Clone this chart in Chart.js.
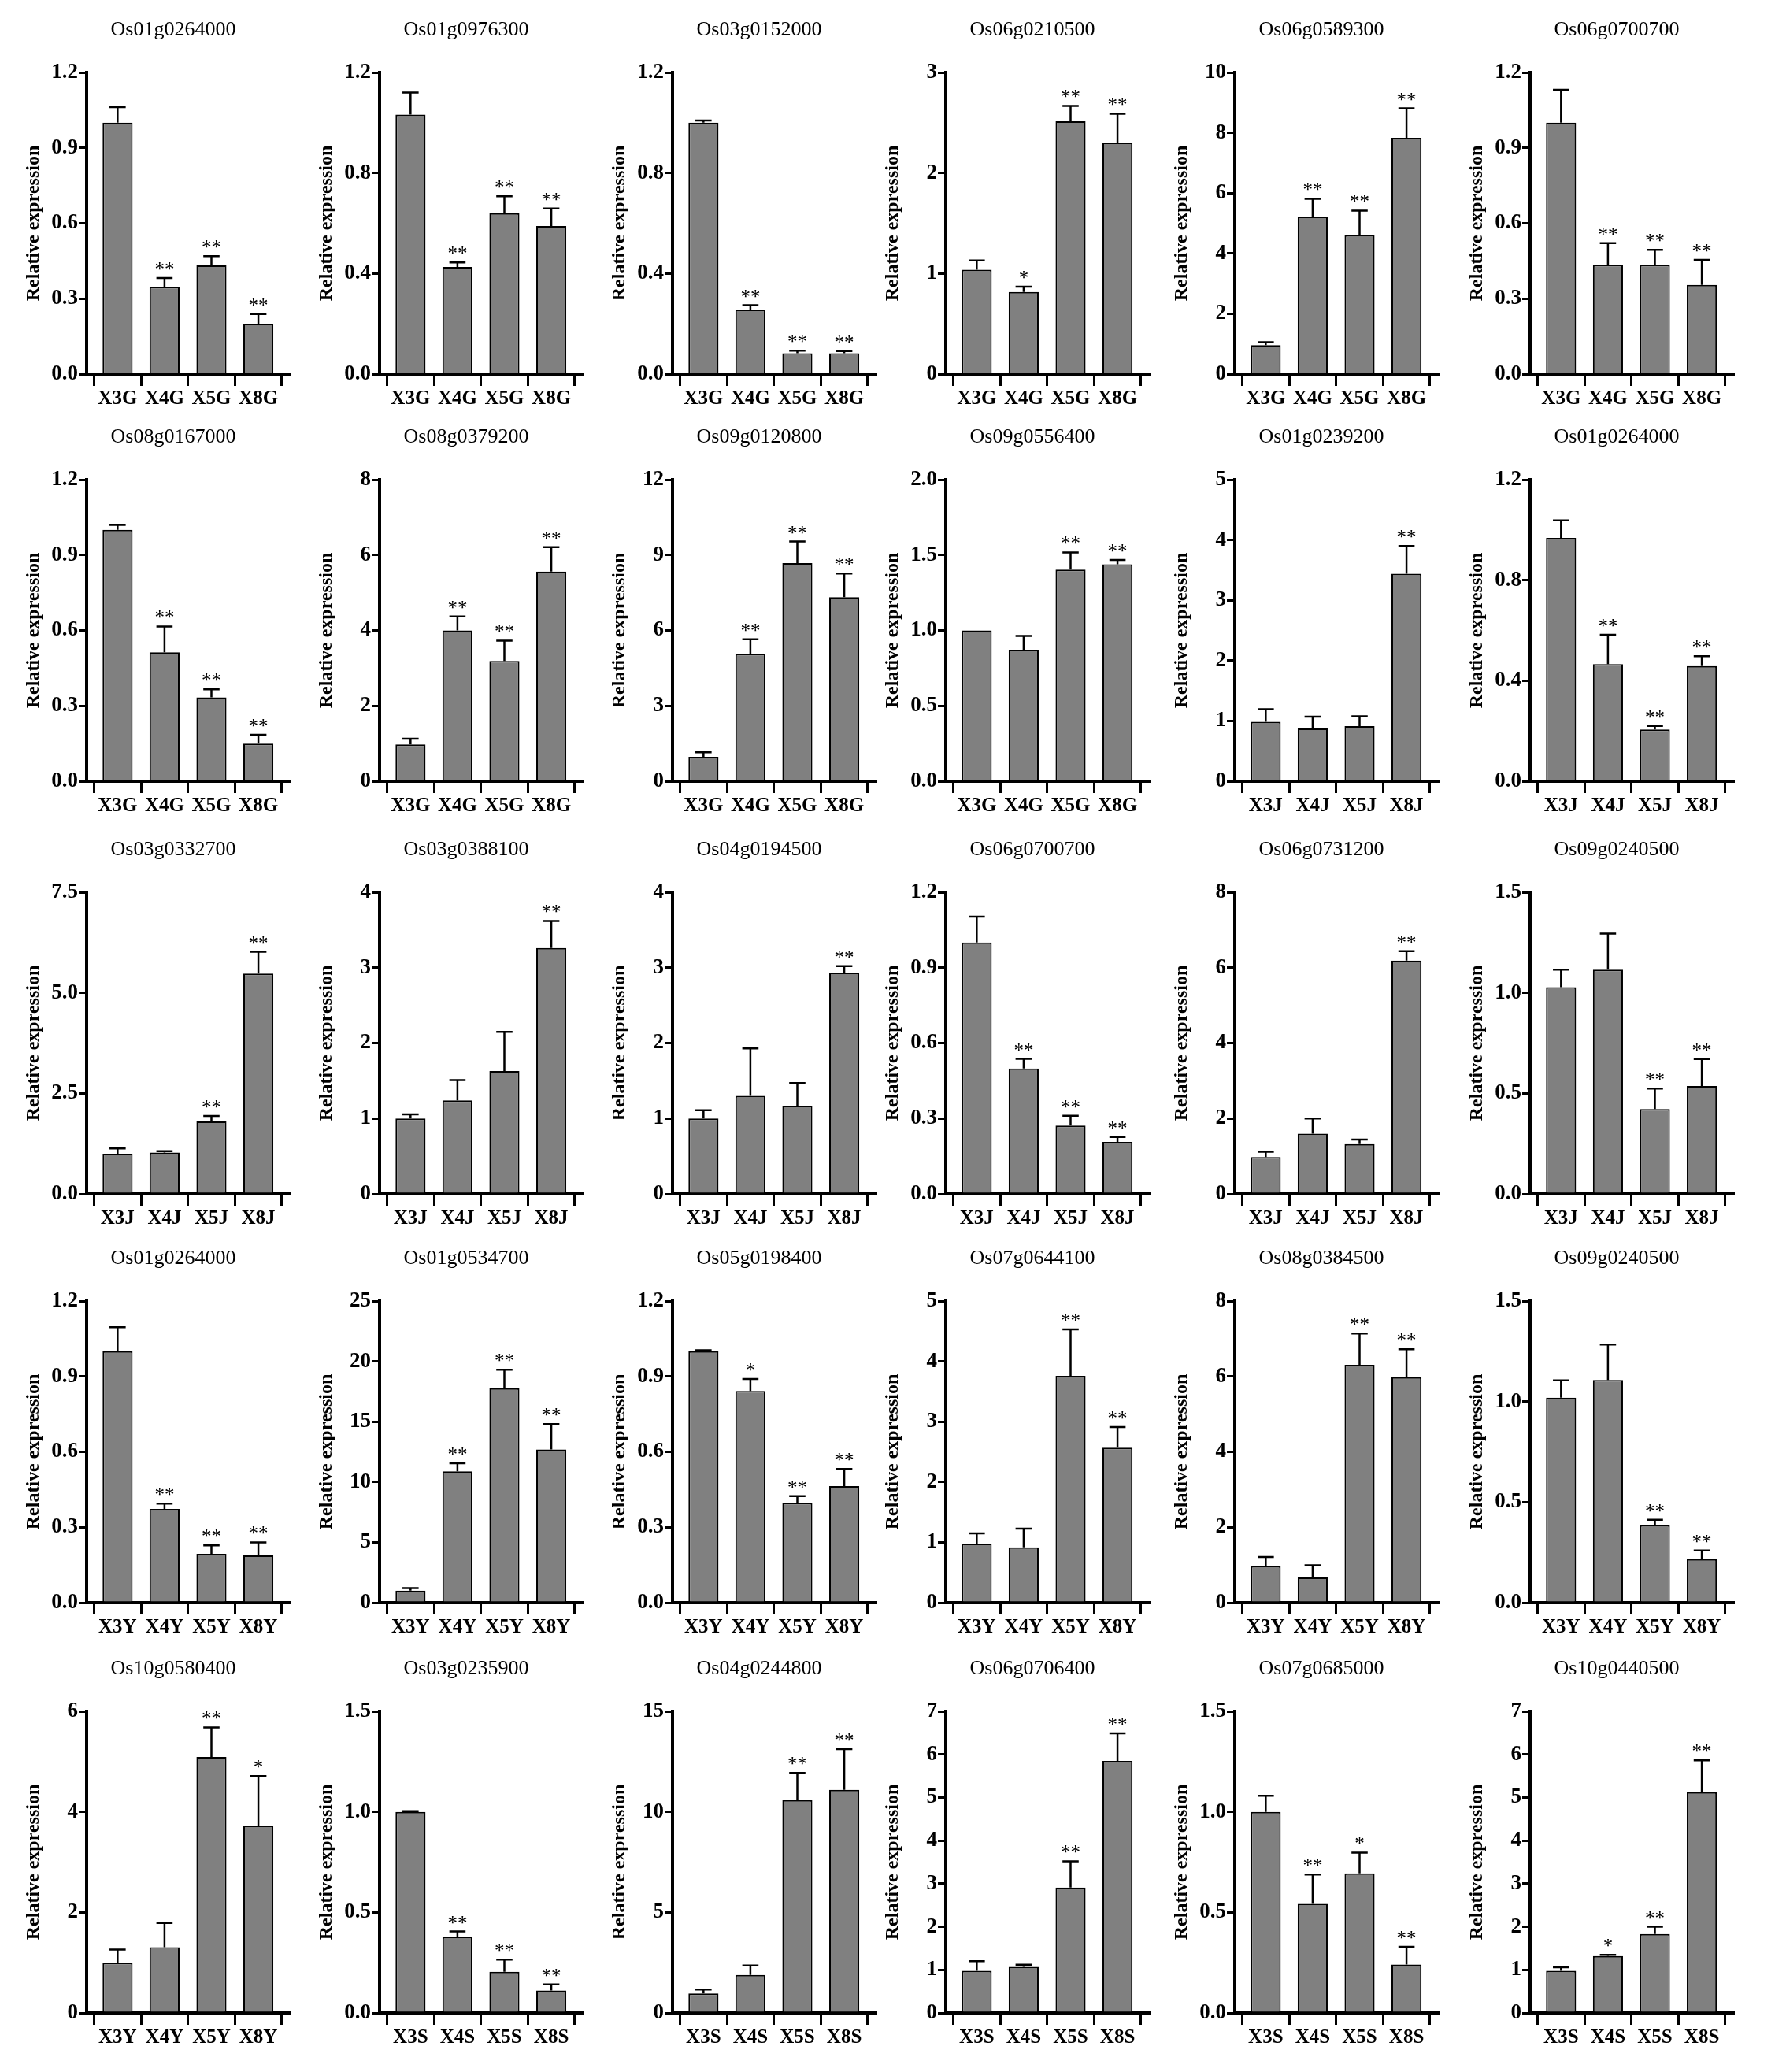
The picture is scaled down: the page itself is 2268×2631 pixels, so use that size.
<!DOCTYPE html>
<html lang="en">
<head>
<meta charset="UTF-8">
<title>Relative expression</title>
<script src="https://cdn.jsdelivr.net/npm/chart.js@4.4.1/dist/chart.umd.min.js"></script>
<style>
  html, body { margin: 0; padding: 0; background: #fff; }
  #page { position: relative; width: 2268px; height: 2631px; overflow: hidden; background: #fff; }
  .panel { position: absolute; }
</style>
</head>
<body>
<div id="page"></div>

<script>
// ---------------- data ----------------
const geneNames = [
  'Os01g0264000', 'Os01g0976300', 'Os03g0152000', 'Os06g0210500', 'Os06g0589300', 'Os06g0700700',
  'Os08g0167000', 'Os08g0379200', 'Os09g0120800', 'Os09g0556400', 'Os01g0239200', 'Os01g0264000',
  'Os03g0332700', 'Os03g0388100', 'Os04g0194500', 'Os06g0700700', 'Os06g0731200', 'Os09g0240500',
  'Os01g0264000', 'Os01g0534700', 'Os05g0198400', 'Os07g0644100', 'Os08g0384500', 'Os09g0240500',
  'Os10g0580400', 'Os03g0235900', 'Os04g0244800', 'Os06g0706400', 'Os07g0685000', 'Os10g0440500'
];

const catsG = ['X3G', 'X4G', 'X5G', 'X8G'];
const catsJ = ['X3J', 'X4J', 'X5J', 'X8J'];
const catsY = ['X3Y', 'X4Y', 'X5Y', 'X8Y'];
const catsS = ['X3S', 'X4S', 'X5S', 'X8S'];
const panelCats = [
  catsG, catsG, catsG, catsG, catsG, catsG,
  catsG, catsG, catsG, catsG, catsJ, catsJ,
  catsJ, catsJ, catsJ, catsJ, catsJ, catsJ,
  catsY, catsY, catsY, catsY, catsY, catsY,
  catsY, catsS, catsS, catsS, catsS, catsS
];

const meanValues = [
  [1.0, 0.347, 0.432, 0.199], [1.032, 0.426, 0.640, 0.589], [1.0, 0.257, 0.083, 0.083],
  [1.037, 0.817, 2.515, 2.302], [0.96, 5.21, 4.61, 7.83], [1.0, 0.435, 0.435, 0.355],
  [1.0, 0.513, 0.334, 0.150], [0.976, 4.0, 3.19, 5.56], [0.97, 5.07, 8.68, 7.32],
  [1.0, 0.872, 1.404, 1.439], [0.987, 0.874, 0.913, 3.44], [0.968, 0.466, 0.206, 0.458],
  [1.0, 1.03, 1.80, 5.48], [1.0, 1.24, 1.63, 3.26], [1.0, 1.30, 1.17, 2.93],
  [1.0, 0.499, 0.272, 0.207], [0.976, 1.60, 1.32, 6.19], [1.028, 1.115, 0.422, 0.537],
  [1.0, 0.373, 0.194, 0.188], [0.99, 10.88, 17.77, 12.7], [1.0, 0.842, 0.397, 0.464],
  [0.98, 0.916, 3.76, 2.57], [0.97, 0.67, 6.31, 5.98], [1.019, 1.107, 0.386, 0.216],
  [1.0, 1.31, 5.09, 3.72], [1.0, 0.378, 0.205, 0.112], [0.97, 1.89, 10.58, 11.09],
  [0.98, 1.07, 2.91, 5.85], [1.0, 0.542, 0.694, 0.241], [0.98, 1.32, 1.83, 5.12]
];

const sdValues = [
  [0.062, 0.035, 0.037, 0.040], [0.088, 0.018, 0.067, 0.070], [0.009, 0.017, 0.010, 0.009],
  [0.093, 0.053, 0.153, 0.287], [0.10, 0.60, 0.81, 0.98], [0.131, 0.086, 0.059, 0.099],
  [0.020, 0.103, 0.032, 0.035], [0.15, 0.37, 0.54, 0.65], [0.18, 0.58, 0.86, 0.94],
  [0, 0.092, 0.113, 0.029], [0.209, 0.196, 0.165, 0.46], [0.070, 0.117, 0.014, 0.039],
  [0.13, 0.03, 0.14, 0.54], [0.055, 0.27, 0.52, 0.36], [0.11, 0.63, 0.30, 0.09],
  [0.103, 0.038, 0.039, 0.019], [0.14, 0.40, 0.12, 0.25], [0.087, 0.179, 0.102, 0.134],
  [0.096, 0.021, 0.034, 0.052], [0.22, 0.67, 1.53, 2.1], [0.004, 0.048, 0.027, 0.068],
  [0.17, 0.31, 0.77, 0.34], [0.24, 0.32, 0.83, 0.74], [0.086, 0.177, 0.026, 0.043],
  [0.26, 0.48, 0.59, 0.99], [0.004, 0.027, 0.060, 0.030], [0.20, 0.47, 1.36, 2.03],
  [0.22, 0.05, 0.61, 0.64], [0.080, 0.146, 0.103, 0.088], [0.08, 0.03, 0.17, 0.74]
];

const sigMarks = [
  ['', '**', '**', '**'], ['', '**', '**', '**'], ['', '**', '**', '**'],
  ['', '*', '**', '**'], ['', '**', '**', '**'], ['', '**', '**', '**'],
  ['', '**', '**', '**'], ['', '**', '**', '**'], ['', '**', '**', '**'],
  ['', '', '**', '**'], ['', '', '', '**'], ['', '**', '**', '**'],
  ['', '', '**', '**'], ['', '', '', '**'], ['', '', '', '**'],
  ['', '**', '**', '**'], ['', '', '', '**'], ['', '', '**', '**'],
  ['', '**', '**', '**'], ['', '**', '**', '**'], ['', '*', '**', '**'],
  ['', '', '**', '**'], ['', '', '**', '**'], ['', '', '**', '**'],
  ['', '', '**', '*'], ['', '**', '**', '**'], ['', '', '**', '**'],
  ['', '', '**', '**'], ['', '**', '*', '**'], ['', '*', '**', '**']
];

const ticks03 = ['0.0', '0.3', '0.6', '0.9', '1.2'];
const ticks04 = ['0.0', '0.4', '0.8', '1.2'];
const ticks05 = ['0.0', '0.5', '1.0', '1.5'];
const yTickLabels = [
  ticks03, ticks04, ticks04, ['0', '1', '2', '3'], ['0', '2', '4', '6', '8', '10'], ticks03,
  ticks03, ['0', '2', '4', '6', '8'], ['0', '3', '6', '9', '12'], ['0.0', '0.5', '1.0', '1.5', '2.0'], ['0', '1', '2', '3', '4', '5'], ticks04,
  ['0.0', '2.5', '5.0', '7.5'], ['0', '1', '2', '3', '4'], ['0', '1', '2', '3', '4'], ticks03, ['0', '2', '4', '6', '8'], ticks05,
  ticks03, ['0', '5', '10', '15', '20', '25'], ticks03, ['0', '1', '2', '3', '4', '5'], ['0', '2', '4', '6', '8'], ticks05,
  ['0', '2', '4', '6'], ticks05, ['0', '5', '10', '15'], ['0', '1', '2', '3', '4', '5', '6', '7'], ticks05, ['0', '1', '2', '3', '4', '5', '6', '7']
];

// ---------------- layout ----------------
const axisLeft = [110, 482, 854, 1201, 1568, 1943];   // y-axis x position per column
const plotTop = [92, 609, 1133, 1652, 2173];           // top tick y position per row
const PLOT_H = 383, Y_W = 108, X_LEN = 258, CANVAS_W = 380, TOP_PAD = 93, X_H = 45, BOTTOM_PAD = 20;
const CANVAS_H = TOP_PAD + PLOT_H + X_H + BOTTOM_PAD;

// error bars + significance stars
const errBars = {
  id: 'errBars',
  afterDatasetsDraw(chart, args, opts) {
    const ctx = chart.ctx;
    const y = chart.scales.y;
    const pts = chart.data.datasets[0].data;
    ctx.save();
    ctx.strokeStyle = '#000';
    ctx.fillStyle = '#000';
    ctx.lineWidth = 2.5;
    chart.getDatasetMeta(0).data.forEach((bar, i) => {
      const base = y.getPixelForValue(pts[i].y);
      const top = y.getPixelForValue(pts[i].y + opts.sd[i]);
      const half = bar.width * 0.27;
      if (opts.sd[i] > 0) {
        ctx.beginPath();
        ctx.moveTo(bar.x, base);
        ctx.lineTo(bar.x, top);
        ctx.moveTo(bar.x - half, top);
        ctx.lineTo(bar.x + half, top);
        ctx.stroke();
      }
      if (opts.marks[i]) {
        ctx.font = '25px "Liberation Serif"';
        ctx.textAlign = 'center';
        ctx.textBaseline = 'alphabetic';
        ctx.fillText(opts.marks[i], bar.x, top - 3);
      }
    });
    ctx.restore();
  }
};

// gene name above each panel
const panelTitle = {
  id: 'panelTitle',
  afterDraw(chart, args, opts) {
    const ctx = chart.ctx;
    ctx.save();
    ctx.font = '26px "Liberation Serif"';
    ctx.fillStyle = '#000';
    ctx.textAlign = 'center';
    ctx.textBaseline = 'middle';
    ctx.fillText(opts.text, chart.chartArea.left + 110, chart.chartArea.top - 54);
    ctx.restore();
  }
};

const page = document.getElementById('page');

for (let p = 0; p < geneNames.length; p++) {
  const row = Math.floor(p / 6), col = p % 6;
  const box = document.createElement('div');
  box.className = 'panel';
  box.style.left = (axisLeft[col] - Y_W) + 'px';
  box.style.top = (plotTop[row] - TOP_PAD) + 'px';
  box.style.width = CANVAS_W + 'px';
  box.style.height = CANVAS_H + 'px';
  const cv = document.createElement('canvas');
  cv.width = CANVAS_W;
  cv.height = CANVAS_H;
  box.appendChild(cv);
  page.appendChild(box);

  const cats = panelCats[p];
  const tickLabels = yTickLabels[p];
  const tickVals = tickLabels.map(Number);

  new Chart(cv, {
    type: 'bar',
    data: {
      datasets: [{
        data: meanValues[p].map((v, i) => ({ x: i, y: v })),
        backgroundColor: '#808080',
        borderColor: '#000',
        borderWidth: 2,
        barPercentage: 0.64,
        categoryPercentage: 1
      }]
    },
    options: {
      responsive: false,
      animation: false,
      events: [],
      layout: { padding: { top: TOP_PAD, left: 0, right: CANVAS_W - Y_W - X_LEN, bottom: BOTTOM_PAD } },
      plugins: {
        legend: { display: false },
        tooltip: { enabled: false },
        errBars: { sd: sdValues[p], marks: sigMarks[p] },
        panelTitle: { text: geneNames[p] }
      },
      scales: {
        x: {
          type: 'linear',
          min: -0.66,
          max: 3.67,
          offset: false,
          z: 1,
          afterBuildTicks: s => { s.ticks = cats.map((c, i) => ({ value: i })); },
          afterFit: s => { s.height = X_H; },
          ticks: {
            callback: (v, i) => cats[i],
            font: { family: 'Liberation Serif', size: 25, weight: 'bold' },
            color: '#000',
            padding: 2,
            maxRotation: 0,
            autoSkip: false
          },
          grid: { drawOnChartArea: false, drawTicks: true, tickLength: 15, lineWidth: 3, color: '#000' },
          border: { display: true, width: 4, color: '#000' }
        },
        y: {
          min: 0,
          max: tickVals[tickVals.length - 1],
          z: 1,
          afterBuildTicks: s => { s.ticks = tickVals.map(v => ({ value: v })); },
          afterFit: s => { s.width = Y_W; },
          ticks: {
            callback: (v, i) => tickLabels[i],
            font: { family: 'Liberation Serif', size: 27, weight: 'bold' },
            color: '#000',
            padding: 1
          },
          grid: { drawOnChartArea: false, drawTicks: true, tickLength: 10, lineWidth: 3, color: '#000' },
          border: { display: true, width: 4, color: '#000' },
          title: {
            display: true,
            text: 'Relative expression',
            font: { family: 'Liberation Serif', size: 24, weight: 'bold' },
            color: '#000',
            padding: { top: 26, bottom: 0 }
          }
        }
      }
    },
    plugins: [errBars, panelTitle]
  });
}
</script>
</body>
</html>
